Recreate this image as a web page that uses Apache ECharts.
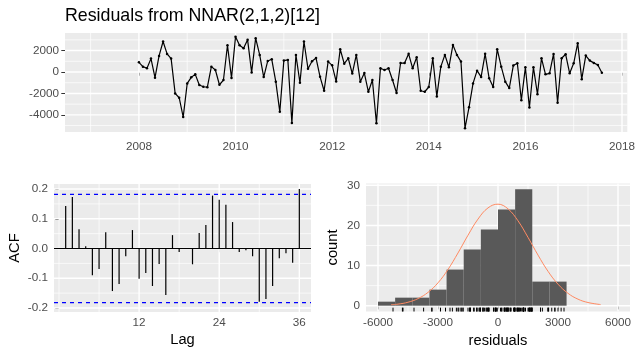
<!DOCTYPE html>
<html>
<head>
<meta charset="utf-8">
<script src="https://cdn.jsdelivr.net/npm/echarts@6.0.0/dist/echarts.min.js"></script>
<style>
  html, body { margin: 0; padding: 0; background: #fff; }
  #main { width: 638px; height: 354px; }
</style>
</head>
<body>
<div id="main"></div>
<script type="text/javascript">
  // residuals, monthly from Jan 2008
  var startYear = 2008;
  var residuals = [
    906, 500, 344, 1250, -531, 1500, 2844, 1688, 1250, -2000,
    -2400, -4200, -1063, -500, -219, -1219, -1375, -1420, 500, 188,
    -1190, -750, 2500, -560, 3300, 2500, 2219, 3000, -40, 3156,
    1594, -470, 1031, 1188, -900, -3719, 1063, 1125, -4750, 1594,
    -1000, 2844, 300, 1000, 1300, -450, -1750, 969, 620, -880,
    2125, 780, 1281, -150, 1594, -906, -100, -1844, -750, -4780,
    344, 188, 344, -750, -1960, 840, 830, 1700, 344, 1375,
    -1750, -1844, -1400, 1281, -2280, 500, 1594, 438, 2531, 1594,
    969, -5250, -3300, -1063, 125, -460, 1700, -594, -1400, 2125,
    500, -900, -1500, 600, 813, -2625, 438, -3313, 438, -2080,
    1281, -219, -125, 1690, -2875, 1281, 1656, -125, 813, 2688,
    -670, 1531, 1063, 850, 656, -63
  ];

  var acfLags = [1, 2, 3, 4, 5, 6, 7, 8, 9, 10, 11, 12, 13, 14, 15, 16, 17, 18,
                 19, 20, 21, 22, 23, 24, 25, 26, 27, 28, 29, 30, 31, 32, 33, 34, 35, 36];
  var acfValues = [0.143, 0.173, 0.065, 0.008, -0.090, -0.069, 0.055, -0.143, -0.119, -0.026,
                   0.062, -0.102, -0.082, -0.126, -0.052, -0.156, 0.045, -0.012, 0.001, -0.053,
                   0.052, 0.079, 0.178, 0.164, 0.147, 0.089, -0.012, -0.006, -0.026, -0.179,
                   -0.170, -0.126, -0.033, -0.016, -0.048, 0.200];
  var ciLimit = 0.182;

  var binEdges = [-6000, -5143, -4286, -3429, -2571, -1714, -857, 0, 857, 1714, 2571, 3429];
  var binCounts = [1, 2, 2, 4, 9, 14, 19, 24, 29, 6, 6];

  var normalX = [-5350, -5000, -4500, -4000, -3500, -3000, -2500, -2000, -1500, -1000, -500,
                 0, 500, 1000, 1500, 2000, 2500, 3000, 3500, 4000, 4500, 5130];
  var normalY = [0.25, 0.39, 0.86, 1.76, 3.31, 5.70, 9.02, 13.14, 17.56, 21.58, 24.37,
                 25.30, 24.13, 21.15, 17.03, 12.61, 8.57, 5.36, 3.08, 1.62, 0.79, 0.28];

  var tsXTicks = [2008, 2010, 2012, 2014, 2016, 2018];
  var tsXMinor = [2007, 2009, 2011, 2013, 2015, 2017];
  var tsYTicks = [-4000, -2000, 0, 2000];
  var tsYMinor = [-5000, -3000, -1000, 1000, 3000];
  var lagTicks = [12, 24, 36];
  var lagMinor = [0, 6, 18, 30];
  var acfTicks = [-0.2, -0.1, 0, 0.1, 0.2];
  var acfMinor = [-0.15, -0.05, 0.05, 0.15];
  var histXTicks = [-6000, -3000, 0, 3000, 6000];
  var histXMinor = [-4500, -1500, 1500, 4500];
  var histYTicks = [0, 10, 20, 30];
  var histYMinor = [5, 15, 25];

  var FONT = '"Liberation Sans", Arial, sans-serif';

  function valueAxis(gridIndex, min, max, ticks, margin, fmt) {
    return {
      type: 'value', gridIndex: gridIndex, min: min, max: max,
      axisLine: { show: false },
      axisTick: { show: true, length: 3.7, customValues: ticks, lineStyle: { color: '#333333', width: 1 } },
      axisLabel: { customValues: ticks, color: '#4D4D4D', fontSize: 11.7, fontFamily: FONT, margin: margin,
                   formatter: fmt || function (v) { return String(v); } },
      splitLine: { show: false }
    };
  }

  // full-width / full-height reference lines drawn through the axis scales
  // item: [orientation (0 = horizontal at y, 1 = vertical at x), value, width]
  function refLines(idx, z, color, dash, items) {
    return {
      type: 'custom', xAxisIndex: idx, yAxisIndex: idx, data: items, z: z, silent: true,
      renderItem: function (params, api) {
        var cs = params.coordSys;
        var vertical = api.value(0) === 1;
        var v = api.value(1);
        var shape;
        if (vertical) {
          var x = api.coord([v, 0])[0];
          shape = { x1: x, y1: cs.y, x2: x, y2: cs.y + cs.height };
        } else {
          var y = api.coord([0, v])[1];
          shape = { x1: cs.x, y1: y, x2: cs.x + cs.width, y2: y };
        }
        return { type: 'line', shape: shape,
                 style: { stroke: color, lineWidth: api.value(2), lineDash: dash } };
      }
    };
  }

  function gridItems(xMajor, xMinor, yMajor, yMinor) {
    var d = [];
    xMinor.forEach(function (v) { d.push([1, v, 0.7]); });
    yMinor.forEach(function (v) { d.push([0, v, 0.7]); });
    xMajor.forEach(function (v) { d.push([1, v, 1.4]); });
    yMajor.forEach(function (v) { d.push([0, v, 1.4]); });
    return d;
  }

  var tsData = residuals.map(function (v, i) { return [startYear + i / 12, v]; });
  var acfData = acfLags.map(function (l, i) { return [l, acfValues[i]]; });
  var histData = binCounts.map(function (c, i) { return [binEdges[i], binEdges[i + 1], c]; });
  var normalData = normalX.map(function (x, i) { return [x, normalY[i]]; });
  var rugData = residuals.map(function (v) { return [v, 0]; });

  var histYMin = -1.45;

  var chart = echarts.init(document.getElementById('main'));
  chart.setOption({
    animation: false,
    backgroundColor: '#FFFFFF',
    textStyle: { fontFamily: FONT },
    grid: [
      { left: 65, top: 33, width: 565, height: 99, show: true, backgroundColor: '#EBEBEB', borderWidth: 0 },
      { left: 54, top: 184, width: 257, height: 128, show: true, backgroundColor: '#EBEBEB', borderWidth: 0 },
      { left: 366, top: 183.5, width: 264, height: 128, show: true, backgroundColor: '#EBEBEB', borderWidth: 0 }
    ],
    xAxis: [
      valueAxis(0, 2006.47, 2018.11, tsXTicks, 9),
      valueAxis(1, -0.75, 37.75, lagTicks, 5),
      valueAxis(2, -6600, 6600, histXTicks, 5)
    ],
    yAxis: [
      valueAxis(0, -5600, 3640, tsYTicks, 6),
      valueAxis(1, -0.2135, 0.217, acfTicks, 6, function (v) { return v.toFixed(1); }),
      valueAxis(2, histYMin, 30.45, histYTicks, 6)
    ],
    graphic: [
      { type: 'text', left: 65, top: 7, style: { text: 'Residuals from NNAR(2,1,2)[12]', font: '17.8px ' + FONT, fill: '#000' } },
      { type: 'text', x: 15, y: 248, rotation: Math.PI / 2,
        style: { text: 'ACF', font: '14.7px ' + FONT, fill: '#000', align: 'center', verticalAlign: 'middle' } },
      { type: 'text', x: 182.5, y: 340, style: { text: 'Lag', font: '14.7px ' + FONT, fill: '#000', align: 'center', verticalAlign: 'middle' } },
      { type: 'text', x: 333, y: 247.5, rotation: Math.PI / 2,
        style: { text: 'count', font: '14.7px ' + FONT, fill: '#000', align: 'center', verticalAlign: 'middle' } },
      { type: 'text', x: 498, y: 341, style: { text: 'residuals', font: '14.7px ' + FONT, fill: '#000', align: 'center', verticalAlign: 'middle' } }
    ],
    series: [
      refLines(0, 1, '#FFFFFF', null, gridItems(tsXTicks, tsXMinor, tsYTicks, tsYMinor)),
      {
        type: 'line', xAxisIndex: 0, yAxisIndex: 0, data: tsData, z: 3,
        showSymbol: true, symbol: 'circle', symbolSize: 2.5,
        itemStyle: { color: '#000' }, lineStyle: { color: '#000', width: 1.2 }
      },
      refLines(1, 1, '#FFFFFF', null, gridItems(lagTicks, lagMinor, acfTicks, acfMinor)),
      refLines(1, 2, '#000000', null, [[0, 0, 1.2]]),
      {
        type: 'custom', xAxisIndex: 1, yAxisIndex: 1, data: acfData, z: 3,
        renderItem: function (params, api) {
          var p0 = api.coord([api.value(0), 0]);
          var p1 = api.coord([api.value(0), api.value(1)]);
          return { type: 'line', shape: { x1: p0[0], y1: p0[1], x2: p1[0], y2: p1[1] },
                   style: { stroke: '#000', lineWidth: 1.2 } };
        }
      },
      refLines(1, 4, '#0000FF', [4, 4], [[0, ciLimit, 1.1], [0, -ciLimit, 1.1]]),
      refLines(2, 1, '#FFFFFF', null, gridItems(histXTicks, histXMinor, histYTicks, histYMinor)),
      {
        type: 'custom', xAxisIndex: 2, yAxisIndex: 2, data: histData, z: 2,
        encode: { x: [0, 1], y: 2 },
        renderItem: function (params, api) {
          var a = api.coord([api.value(0), api.value(2)]);
          var b = api.coord([api.value(1), 0]);
          return { type: 'rect', shape: { x: a[0], y: a[1], width: b[0] - a[0], height: b[1] - a[1] },
                   style: { fill: '#595959' } };
        }
      },
      {
        type: 'line', xAxisIndex: 2, yAxisIndex: 2, data: normalData, z: 3,
        smooth: 0.4, showSymbol: false, lineStyle: { color: '#FF8A62', width: 1 }
      },
      {
        type: 'custom', xAxisIndex: 2, yAxisIndex: 2, data: rugData, z: 3,
        renderItem: function (params, api) {
          var p = api.coord([api.value(0), histYMin]);
          return { type: 'line', shape: { x1: p[0], y1: p[1], x2: p[0], y2: p[1] - 3.8 },
                   style: { stroke: '#000', lineWidth: 1 } };
        }
      }
    ]
  });
</script>
</body>
</html>
